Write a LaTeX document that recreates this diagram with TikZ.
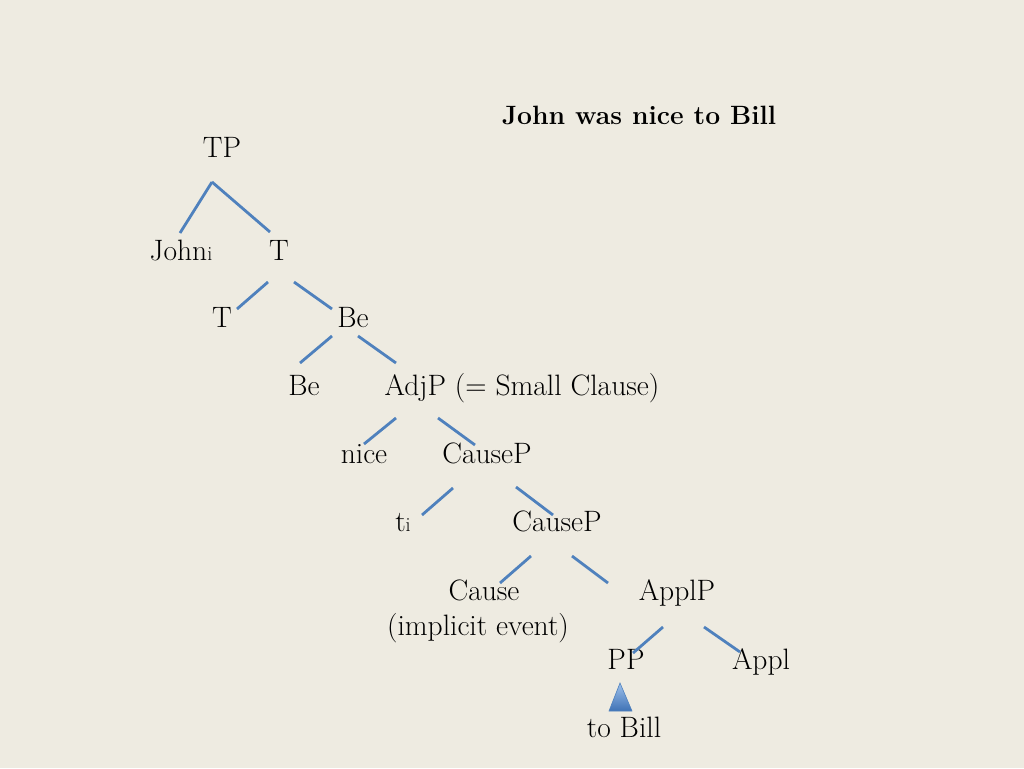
\documentclass[tikz,border=0pt]{standalone}
\usepackage{fontspec}
\definecolor{bgcol}{HTML}{EEEBE1}
\definecolor{lineblue}{HTML}{4F81BD}
\definecolor{triTop}{HTML}{9EC1EC}
\definecolor{triBot}{HTML}{3F72B5}
\newcommand{\subi}{\raisebox{-0.5pt}{\fontsize{20}{23}\selectfont i}}
\begin{document}
\begin{tikzpicture}[x=1pt,y=-1pt,
  lbl/.style={font=\fontsize{29.5}{34}\selectfont, inner sep=0pt, anchor=base},
  ttl/.style={font=\fontsize{26.5}{31}\selectfont\bfseries, inner sep=0pt, anchor=base},
  branch/.style={draw=lineblue, line width=2.8pt}]
\fill[bgcol] (0,0) rectangle (1024,768);
\useasboundingbox (0,0) rectangle (1024,768);
% title
\node[ttl] (title) at (639,124) {John was nice to Bill};
% nodes
\node[lbl] (tp) at (222,157) {TP};
\node[lbl] (john) at (181,260) {John\subi};
\node[lbl] (t1) at (279,260) {T};
\node[lbl] (t2) at (222,327) {T};
\node[lbl] (be1) at (353,327) {Be};
\node[lbl] (be2) at (304,395) {Be};
\node[lbl] (adjp) at (522,395) {AdjP (= Small Clause)};
\node[lbl] (nice) at (364,463) {nice};
\node[lbl] (causep1) at (487,463) {CauseP};
\node[lbl] (ti) at (403,531) {t\subi};
\node[lbl] (causep2) at (557,531) {CauseP};
\node[lbl] (cause) at (484,600) {Cause};
\node[lbl] (implicit) at (478,635) {(implicit event)};
\node[lbl] (applp) at (677,600) {ApplP};
\node[lbl] (pp) at (626,669) {PP};
\node[lbl] (appl) at (761,669) {Appl};
\node[lbl] (tobill) at (624,737) {to Bill};
% branch end points
\coordinate (tp-b) at (212,182);
\coordinate (john-t) at (180,233);
\coordinate (t1-t) at (270,232);
\coordinate (t1-l) at (268,282);
\coordinate (t1-r) at (294,282);
\coordinate (t2-t) at (237,309);
\coordinate (be1-t) at (332,309);
\coordinate (be1-l) at (332,336);
\coordinate (be1-r) at (358,336);
\coordinate (be2-t) at (300,363);
\coordinate (adjp-t) at (396,363);
\coordinate (adjp-l) at (396,418);
\coordinate (adjp-r) at (438,418);
\coordinate (nice-t) at (364,444);
\coordinate (cp1-t) at (475,445);
\coordinate (cp1-l) at (453,488);
\coordinate (cp1-r) at (516,487);
\coordinate (ti-t) at (422,515);
\coordinate (cp2-t) at (553,515);
\coordinate (cp2-l) at (531,556);
\coordinate (cp2-r) at (572,556);
\coordinate (cause-t) at (500,583);
\coordinate (applp-t) at (608,583);
\coordinate (applp-l) at (663,627);
\coordinate (applp-r) at (704,627);
\coordinate (pp-t) at (633,653);
\coordinate (appl-t) at (740,652);
% branches
\draw[branch] (tp-b) -- (john-t);
\draw[branch] (tp-b) -- (t1-t);
\draw[branch] (t1-l) -- (t2-t);
\draw[branch] (t1-r) -- (be1-t);
\draw[branch] (be1-l) -- (be2-t);
\draw[branch] (be1-r) -- (adjp-t);
\draw[branch] (adjp-l) -- (nice-t);
\draw[branch] (adjp-r) -- (cp1-t);
\draw[branch] (cp1-l) -- (ti-t);
\draw[branch] (cp1-r) -- (cp2-t);
\draw[branch] (cp2-l) -- (cause-t);
\draw[branch] (cp2-r) -- (applp-t);
\draw[branch] (applp-l) -- (pp-t);
\draw[branch] (applp-r) -- (appl-t);
% triangle
\coordinate (tri-a) at (620,683);
\coordinate (tri-l) at (609,711);
\coordinate (tri-r) at (632,711);
\shade[top color=triTop, bottom color=triBot, draw=lineblue, line width=0.6pt] (tri-a) -- (tri-r) -- (tri-l) -- cycle;
\end{tikzpicture}
\end{document}
